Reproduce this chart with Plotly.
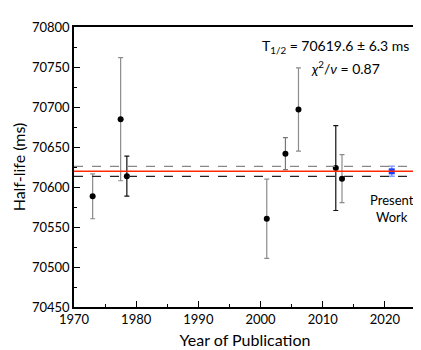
import plotly.graph_objects as go

# previous measurements
years = [1973.0, 1977.5, 1978.5, 2001.0, 2004.0, 2006.1, 2012.1, 2013.1]
half_life = [70588.3, 70684.8, 70613.5, 70560.4, 70641.6, 70696.8, 70623.6, 70610.4]
errors = [28.0, 77.0, 25.0, 49.5, 20.0, 52.0, 53.0, 30.0]
bar_colors = ["#8c8c8c", "#8c8c8c", "#111111", "#8c8c8c", "#777777", "#8c8c8c", "#111111", "#8c8c8c"]

# present work
present_year = [2021.1]
present_value = [70619.6]
present_err = [6.3]

mean_value = 70619.6
mean_err = 6.3

font = "Lato, Noto Sans, sans-serif"

fig = go.Figure()

for x, y, e, c in zip(years, half_life, errors, bar_colors):
    fig.add_trace(go.Scatter(
        x=[x], y=[y], mode="markers",
        marker=dict(color="black", size=6),
        error_y=dict(type="data", array=[e], color=c, thickness=1.2, width=2.5),
        showlegend=False))

fig.add_trace(go.Scatter(
    x=present_year, y=present_value, mode="markers",
    marker=dict(color="#1a3cff", size=6, symbol="square"),
    error_y=dict(type="data", array=present_err, color="#7fa0ff", thickness=1.5, width=3),
    showlegend=False))

# weighted mean and uncertainty band
fig.add_hline(y=mean_value, line=dict(color="#ff2a00", width=1.5))
fig.add_hline(y=mean_value + mean_err, line=dict(color="#888888", width=1.2, dash="dash"))
fig.add_hline(y=mean_value - mean_err, line=dict(color="#222222", width=1.2, dash="dash"))

fig.add_annotation(x=0.985, y=0.93, xref="paper", yref="paper", xanchor="right", yanchor="middle",
                   text="T<sub>1/2</sub> = 70619.6 ± 6.3 ms", showarrow=False,
                   font=dict(size=14, color="black", family=font))
fig.add_annotation(x=0.9, y=0.855, xref="paper", yref="paper", xanchor="right", yanchor="middle",
                   text="<i>χ</i><sup>2</sup>/<i>ν</i> = 0.87", showarrow=False,
                   font=dict(size=14, color="black", family=font))
fig.add_annotation(x=2021.1, y=70573, xanchor="center", yanchor="middle",
                   text="Present<br>Work", showarrow=False,
                   font=dict(size=13, color="black", family=font))

fig.update_xaxes(range=[1970, 2025], dtick=10, tick0=1970, tickformat="d",
                 ticks="inside", ticklen=6, tickcolor="black",
                 minor=dict(dtick=5, ticks="inside", ticklen=3, tickcolor="black"),
                 showline=True, linecolor="black", linewidth=1.5, mirror=True,
                 showgrid=False, zeroline=False,
                 title=dict(text="Year of Publication", standoff=8),
                 tickfont=dict(size=13, color="black", family=font))
fig.update_yaxes(range=[70450, 70800], dtick=50, tickformat="d",
                 ticks="inside", ticklen=6, tickcolor="black",
                 minor=dict(dtick=25, ticks="inside", ticklen=3, tickcolor="black"),
                 showline=True, linecolor="black", linewidth=1.5, mirror=True,
                 showgrid=False, zeroline=False,
                 title=dict(text="Half-life (ms)", standoff=2),
                 tickfont=dict(size=13, color="black", family=font))

fig.update_layout(width=421, height=350,
                  margin=dict(l=57, r=11, t=12, b=46),
                  paper_bgcolor="white", plot_bgcolor="white",
                  font=dict(family=font, size=13, color="black"))

fig.write_html("out.html")
